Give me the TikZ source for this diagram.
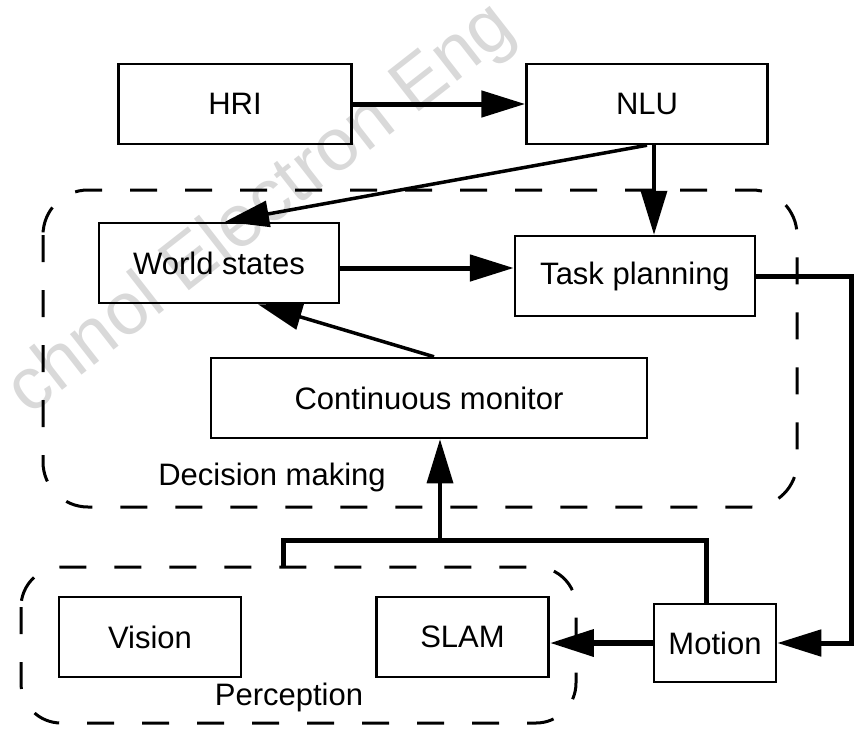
\documentclass[tikz,border=0pt]{standalone}
\usepackage{fontspec}
\setmainfont{Liberation Sans}
\usepackage{tikz}
\usetikzlibrary{positioning, arrows.meta}

\begin{document}
\begin{tikzpicture}[x=1pt, y=-1pt, >={Triangle[length=44pt,width=26pt]},
	font=\fontsize{31}{36}\selectfont,
	block/.style={draw, line width=2.5pt, minimum height=80pt, inner sep=0pt},
	group/.style={line width=3pt, dash pattern=on 27pt off 28pt},
	link/.style={line width=3.5pt},
	heavy/.style={line width=5pt}]
	\useasboundingbox (0,0) rectangle (856,728);

	% watermark
	\node[black!15, rotate=38, font=\fontsize{74}{80}\selectfont] (mark) at (262,210) {chnol Electron Eng};

	\node[block, minimum width=233pt]  (hri)  at (235,104) {HRI};
	\node[block, minimum width=241pt]  (nlu)  at (647,104) {NLU};
	\node[block, minimum width=240pt]  (world) at (219,263) {World states};
	\node[block, minimum width=240pt]  (task) at (635,276) {Task planning};
	\node[block, minimum width=436pt]  (monitor) at (429,398) {Continuous monitor};
	\node[block, minimum width=182pt]  (vision) at (150,637) {Vision};
	\node[block, minimum width=172pt, right=133pt of vision] (slam) {SLAM};
	\node[block, minimum width=122pt, minimum height=78pt] (motion) at (715,643) {Motion};

	% groups
	\draw[group, rounded corners=45pt] (43,190) rectangle (797,507);
	\node (decision) at (272,477) {Decision making};
	\draw[group, rounded corners=40pt] (21,567) rectangle (576,723);
	\node (perception) at (289,697) {Perception};

	\draw[->, heavy] (hri) -- (nlu);
	\draw[->, link] (nlu.south) -- ([xshift=6pt]world.north);
	\draw[->, link] ([xshift=7pt]nlu.south) -- ([xshift=7pt]nlu.south |- task.north);
	\draw[->, heavy] ([yshift=-5pt]world.east) -- ([yshift=-5pt]world.east -| task.west);
	\draw[->, link] ([xshift=5pt]monitor.north) -- ([xshift=39pt]world.south);
	\draw[->, heavy] (task.east) -- ++(95,0) |- (motion.east);
	\draw[->, line width=6.5pt] (motion.west) -- (motion.west -| slam.east);

	\coordinate (busL) at (283,540);
	\coordinate (busR) at (706,540);
	\draw[heavy] ([xshift=-9pt]motion.north) -- (busR) -- (busL) -- ++(0,27);
	\draw[->, link] ([xshift=11pt]monitor.south |- busL) -- ([xshift=11pt]monitor.south);

\end{tikzpicture}
\end{document}
